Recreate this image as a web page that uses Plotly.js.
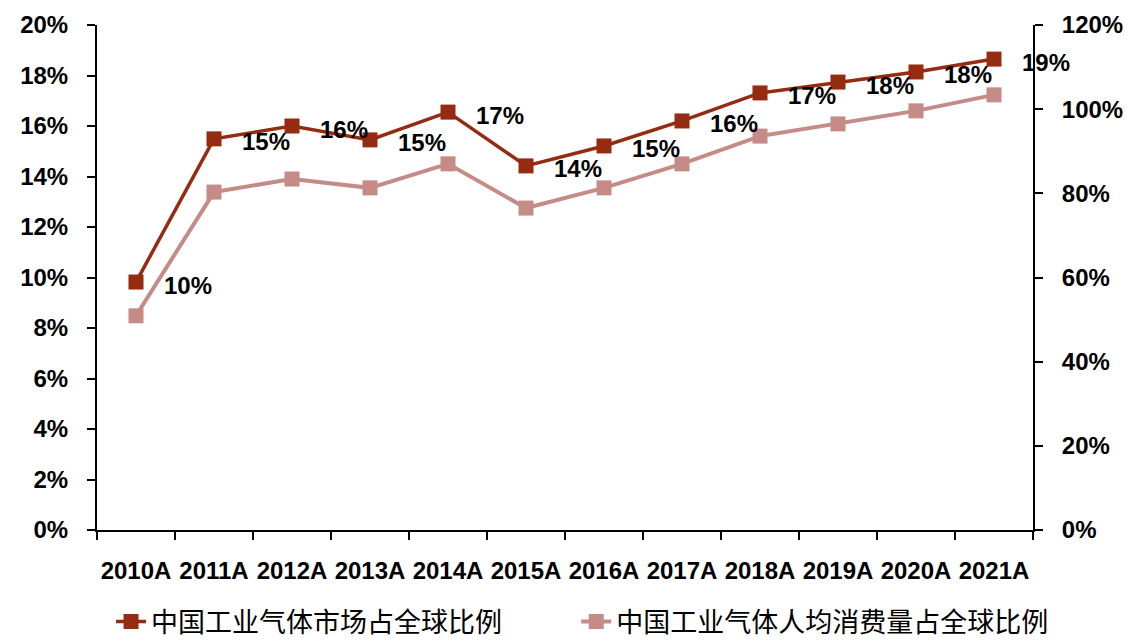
<!DOCTYPE html>
<html>
<head>
<meta charset="utf-8">
<script src="https://cdn.plot.ly/plotly-3.0.1.min.js"></script>
<style>html,body{margin:0;padding:0;background:#fff;}#chart{width:1127px;height:642px;}</style>
</head>
<body>
<div id="chart"></div>
<script>
var categories = ['2010A','2011A','2012A','2013A','2014A','2015A','2016A','2017A','2018A','2019A','2020A','2021A'];
var marketShare = [9.82, 15.49, 16.0, 15.45, 16.55, 14.42, 15.21, 16.2, 17.31, 17.74, 18.14, 18.65];
var perCapitaShare = [50.9, 80.3, 83.4, 81.3, 87.0, 76.5, 81.3, 87.0, 93.6, 96.5, 99.6, 103.4];
var seriesNames = ['中国工业气体市场占全球比例', '中国工业气体人均消费量占全球比例'];
var leftTicks = [0,2,4,6,8,10,12,14,16,18,20];
var rightTicks = [0,20,40,60,80,100,120];

var darkRed = '#952B10';
var pink = '#C48B87';
var baseFont = 'Liberation Sans, Arial, sans-serif';
var cjkFont = 'Noto Sans CJK SC, sans-serif';
var fs = 24;

var traces = [
  {
    x: categories, y: perCapitaShare, name: seriesNames[1], type: 'scatter', mode: 'lines+markers',
    line: {color: pink, width: 4},
    marker: {symbol: 'square', size: 15, color: pink},
    yaxis: 'y2', legend: 'legend2'
  },
  {
    x: categories, y: marketShare, name: seriesNames[0], type: 'scatter', mode: 'lines+markers',
    line: {color: darkRed, width: 3.5},
    marker: {symbol: 'square', size: 15, color: darkRed},
    yaxis: 'y', legend: 'legend'
  }
];

var annotations = categories.map(function(c, i){
  return {
    x: c, y: marketShare[i], xref: 'x', yref: 'y',
    text: Math.round(marketShare[i]) + '%',
    showarrow: false, xshift: 52, yshift: -3,
    font: {family: baseFont, size: fs, color: '#000', weight: 'bold'}
  };
});

var legendFont = {family: cjkFont, size: 27, color: '#000'};

var layout = {
  width: 1127, height: 642,
  margin: {l: 97, r: 94, t: 25, b: 112, autoexpand: false},
  paper_bgcolor: '#fff', plot_bgcolor: '#fff',
  showlegend: true,
  legend: {
    orientation: 'h', x: 0.015, xanchor: 'left', y: -0.182, yanchor: 'middle',
    font: legendFont, bgcolor: 'rgba(0,0,0,0)'
  },
  legend2: {
    orientation: 'h', x: 0.512, xanchor: 'left', y: -0.182, yanchor: 'middle',
    font: legendFont, bgcolor: 'rgba(0,0,0,0)'
  },
  xaxis: {
    type: 'category', categoryorder: 'array', categoryarray: categories,
    tickvals: categories, ticktext: categories, tickangle: 0,
    showline: true, linecolor: '#000', linewidth: 2,
    ticks: 'outside', tickson: 'boundaries', ticklen: 8, tickwidth: 2, tickcolor: '#000',
    showgrid: false, zeroline: false,
    tickfont: {family: baseFont, size: fs, color: '#000', weight: 'bold'},
    ticklabelstandoff: 18,
    range: [-0.5, 11.5]
  },
  yaxis: {
    range: [0, 20], tickvals: leftTicks, ticktext: leftTicks.map(function(v){return v + '%';}),
    showline: true, linecolor: '#000', linewidth: 2,
    ticks: 'outside', ticklen: 8, tickwidth: 2, tickcolor: '#000',
    showgrid: false, zeroline: false,
    tickfont: {family: baseFont, size: fs, color: '#000', weight: 'bold'},
    ticklabelstandoff: 14
  },
  yaxis2: {
    overlaying: 'y', side: 'right',
    range: [0, 120], tickvals: rightTicks, ticktext: rightTicks.map(function(v){return v + '%';}),
    showline: true, linecolor: '#000', linewidth: 2,
    ticks: 'outside', ticklen: 8, tickwidth: 2, tickcolor: '#000',
    showgrid: false, zeroline: false,
    tickfont: {family: baseFont, size: fs, color: '#000', weight: 'bold'},
    ticklabelstandoff: 14
  },
  annotations: annotations
};

Plotly.newPlot('chart', traces, layout, {displayModeBar: false, staticPlot: true});
</script>
</body>
</html>
